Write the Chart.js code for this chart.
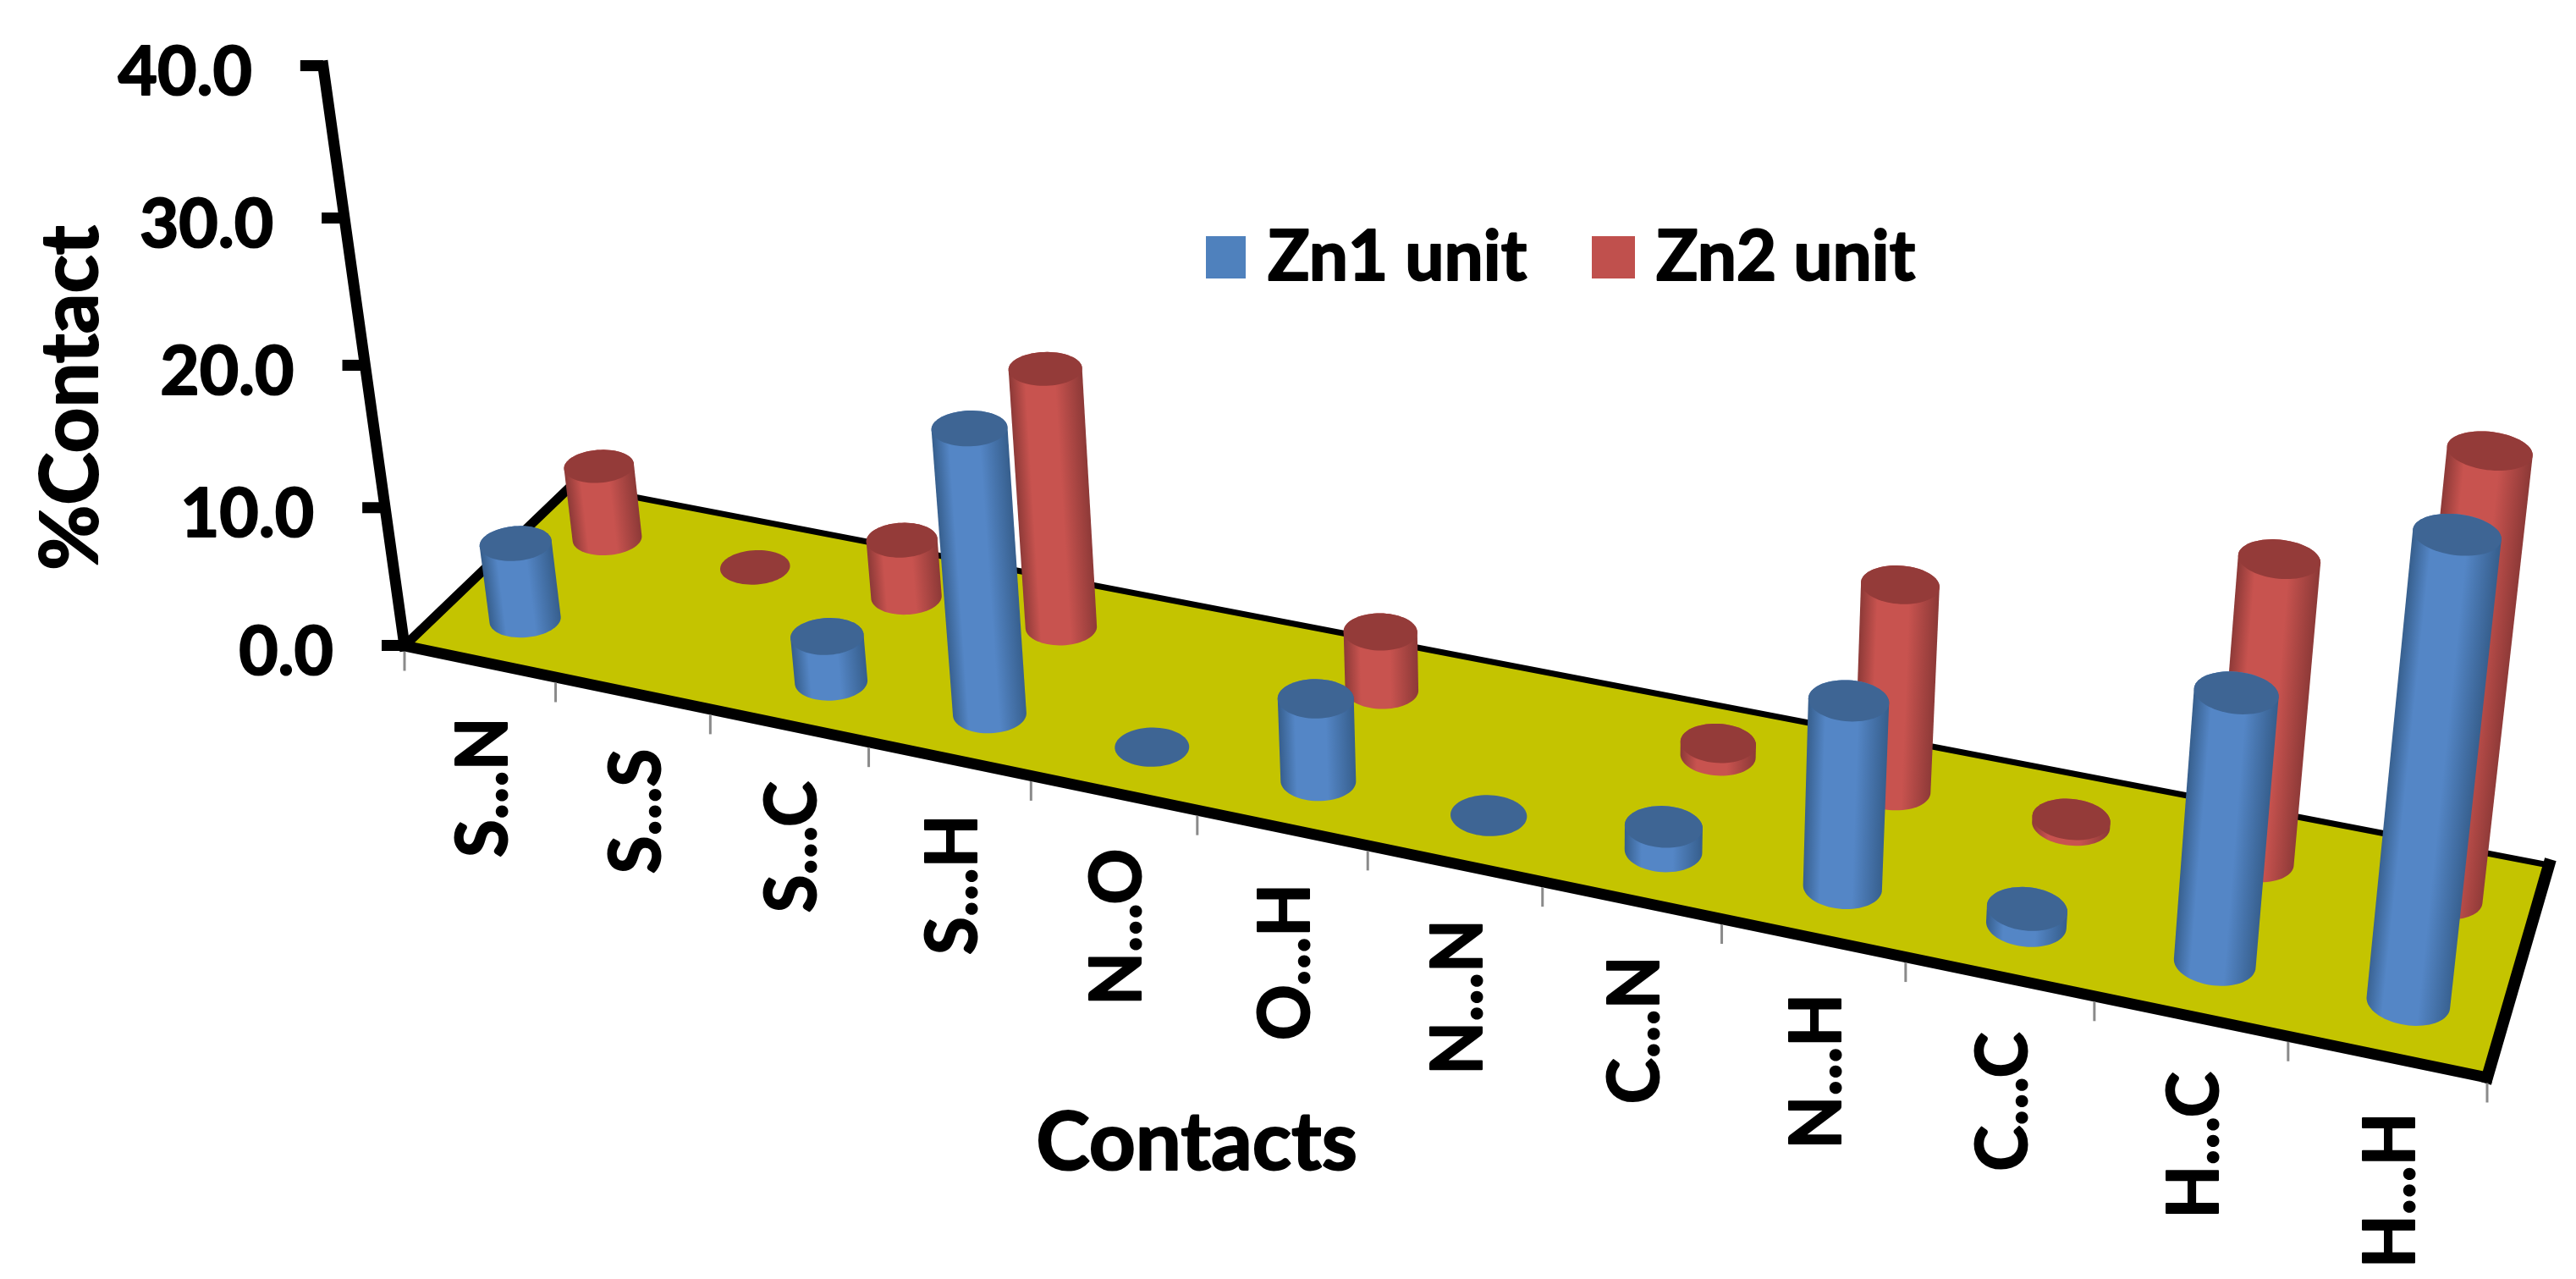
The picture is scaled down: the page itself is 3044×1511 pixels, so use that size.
<!DOCTYPE html>
<html>
<head>
<meta charset="utf-8">
<title>Contacts</title>
<script src="https://cdn.jsdelivr.net/npm/chart.js@4"></script>
<style>
    html, body { margin: 0; padding: 0; background: #fff; }
    canvas { display: block; }
</style>
</head>
<body>
<canvas id="grafico" width="3044" height="1511"></canvas>
<script>
// dados (null = coluna ausente)
var categorias = ["S...N", "S...S", "S...C", "S...H", "N...O", "O...H", "N...N", "C...N", "N...H", "C...C", "H...C", "H...H"];
var zn1 = [5.6, null, 3.3, 20.0, 0, 5.8, 0, 1.7, 12.7, 1.1, 17.9, 30.0];
var zn2 = [5.4, 0, 4.2, 18.5, null, 4.2, null, 0.9, 14.2, 0.4, 20.3, 29.3];
var nomes = ["Zn1 unit", "Zn2 unit"];
var tituloX = "Contacts";
var tituloY = "%Contact";

var FONTE = 'Lato, "Open Sans", sans-serif';

// homografia do piso/eixos: U ao longo das categorias, w na profundidade, t na altura
var P = { a: 2051, b: 237.1, d: 478, e: 332.4, f: -156.8, k: 763, g: -0.1395, h: 0.05787, va: -121, vb: -690, vc: -0.065 };

function proj(U, w, t) {
    var D = 1 + P.g * U + P.h * w + P.vc * t;
    return { x: (P.d + P.a * U + P.b * w + P.va * t) / D, y: (P.k + P.e * U + P.f * w + P.vb * t) / D };
}

function texto(ctx, str, x, y, size, estica, rot, align) {
    ctx.save();
    ctx.translate(x, y);
    ctx.rotate(rot);
    ctx.scale(estica, 1);
    ctx.font = 'bold ' + size + 'px ' + FONTE;
    ctx.textAlign = align;
    ctx.textBaseline = 'middle';
    ctx.fillStyle = '#000';
    ctx.strokeStyle = '#000';
    ctx.lineWidth = 2;
    ctx.lineJoin = 'round';
    ctx.strokeText(str, 0, 0); // a fonte original e mais pesada
    ctx.fillText(str, 0, 0);
    ctx.restore();
}

function linha(ctx, a, b, largura, cor) {
    ctx.beginPath();
    ctx.moveTo(a.x, a.y);
    ctx.lineTo(b.x, b.y);
    ctx.lineWidth = largura;
    ctx.strokeStyle = cor;
    ctx.lineCap = 'square';
    ctx.stroke();
}

function casco(pts) {
    var p = pts.slice().sort(function (a, b) { return a.x - b.x || a.y - b.y; });
    var cross = function (o, a, b) { return (a.x - o.x) * (b.y - o.y) - (a.y - o.y) * (b.x - o.x); };
    var lo = [], up = [];
    p.forEach(function (q) {
        while (lo.length > 1 && cross(lo[lo.length - 2], lo[lo.length - 1], q) <= 0) lo.pop();
        lo.push(q);
    });
    p.reverse().forEach(function (q) {
        while (up.length > 1 && cross(up[up.length - 2], up[up.length - 1], q) <= 0) up.pop();
        up.push(q);
    });
    return lo.slice(0, -1).concat(up.slice(0, -1));
}

function caminho(ctx, pts) {
    ctx.beginPath();
    pts.forEach(function (q, i) { if (i) ctx.lineTo(q.x, q.y); else ctx.moveTo(q.x, q.y); });
    ctx.closePath();
}

var CORES = [
    { topo: '#3E6594', borda: '#365E8C', meio: '#5486C6' },
    { topo: '#943B39', borda: '#8C3937', meio: '#C8534F' }
];
var RU = 0.0175, RW = 0.1;

function cilindro(ctx, U, w, t, cor) {
    var base = [], topo = [];
    for (var i = 0; i < 72; i++) {
        var th = i / 72 * Math.PI * 2;
        var u2 = U + RU * Math.cos(th), w2 = w + RW * Math.sin(th);
        base.push(proj(u2, w2, 0));
        topo.push(proj(u2, w2, t));
    }
    if (t > 0) {
        var c0 = proj(U, w, 0), c1 = proj(U, w, t);
        var nx = c1.y - c0.y, ny = c0.x - c1.x, n = Math.hypot(nx, ny);
        nx /= n; ny /= n;
        if (nx < 0) { nx = -nx; ny = -ny; }
        var hull = casco(base.concat(topo));
        var mn = Infinity, mx = -Infinity;
        hull.forEach(function (q) {
            var s = (q.x - c0.x) * nx + (q.y - c0.y) * ny;
            mn = Math.min(mn, s); mx = Math.max(mx, s);
        });
        var gr = ctx.createLinearGradient(c0.x + nx * mn, c0.y + ny * mn, c0.x + nx * mx, c0.y + ny * mx);
        gr.addColorStop(0, cor.borda);
        gr.addColorStop(0.22, cor.meio);
        gr.addColorStop(0.62, cor.meio);
        gr.addColorStop(1, cor.borda);
        caminho(ctx, hull);
        ctx.fillStyle = gr;
        ctx.fill();
    }
    caminho(ctx, topo);
    ctx.fillStyle = cor.topo;
    ctx.fill();
}

var desenho3d = {
    id: 'desenho3d',
    afterDatasetsDraw: function (chart) {
        var ctx = chart.ctx, xs = chart.scales.x, ys = chart.scales.y;
        var area = chart.chartArea;
        ctx.save();

        // piso
        var p00 = proj(0, 0, 0), p10 = proj(1, 0, 0), p11 = proj(1, 1, 0), p01 = proj(0, 1, 0);
        caminho(ctx, [p00, p10, p11, p01]);
        ctx.fillStyle = '#C4C400';
        ctx.fill();
        linha(ctx, p01, p11, 7, '#000');
        linha(ctx, p00, p01, 11, '#000');
        linha(ctx, p10, p11, 14, '#000');
        linha(ctx, p00, p10, 13, '#000');

        // eixo de valores
        linha(ctx, proj(0, 0, 0), proj(0, 0, 1), 13, '#000');
        ys.ticks.forEach(function (tk) {
            var t = (ys.bottom - ys.getPixelForValue(tk.value)) / ys.height;
            var q = proj(0, 0, t);
            ctx.fillStyle = '#000';
            ctx.fillRect(q.x - 27, q.y - 7, 27, 13);
            texto(ctx, tk.label, q.x - 84, q.y + 8, 80, 1, 0, 'right');
        });

        // categorias
        for (var i = 0; i <= categorias.length; i++) {
            var q = proj(i / categorias.length, 0, 0);
            linha(ctx, { x: q.x, y: q.y + 8 }, { x: q.x, y: q.y + 28 }, 3, '#8A8A8A');
        }
        categorias.forEach(function (nome, i) {
            var U = (xs.getPixelForValue(i) - area.left) / area.width;
            var q = proj(U, 0, 0);
            texto(ctx, nome, q.x + 5, q.y + 66, 84, 0.97, -Math.PI / 2, 'right');
        });

        // colunas: serie de tras primeiro
        [1, 0].forEach(function (s) {
            var meta = chart.getDatasetMeta(s);
            meta.data.forEach(function (el, i) {
                if (chart.data.datasets[s].data[i] === null) return;
                var U = (el.x - area.left) / area.width + 0.0015;
                var t = (ys.bottom - el.y) / ys.height;
                cilindro(ctx, U, s === 0 ? 0.25 : 0.75, t, CORES[s]);
            });
        });

        // titulos
        texto(ctx, tituloX, 1414, 1351, 96, 1, 0, 'center');
        texto(ctx, tituloY, 85, 470, 94, 1, -Math.PI / 2, 'center');

        // legenda
        var lx = [1425, 1881], sw = [47, 51], tx = [1498, 1957];
        chart.data.datasets.forEach(function (ds, s) {
            ctx.fillStyle = ds.corLegenda;
            ctx.fillRect(lx[s], 279, sw[s], 50);
            texto(ctx, ds.label, tx[s], 305, 82, 1, 0, 'left');
        });
        ctx.restore();
    }
};

new Chart(document.getElementById('grafico').getContext('2d'), {
    type: 'bar',
    data: {
        labels: categorias,
        datasets: [
            { label: nomes[0], data: zn1, backgroundColor: 'transparent', corLegenda: '#4F81BD' },
            { label: nomes[1], data: zn2, backgroundColor: 'transparent', corLegenda: '#C0504D' }
        ]
    },
    options: {
        responsive: false,
        animation: false,
        devicePixelRatio: 1,
        layout: { padding: 0 },
        plugins: { legend: { display: false }, tooltip: { enabled: false } },
        datasets: { bar: { grouped: false } },
        scales: {
            x: { ticks: { display: false }, grid: { display: false }, border: { display: false } },
            y: {
                min: 0, max: 40,
                ticks: { display: false, stepSize: 10, callback: function (v) { return v.toFixed(1); } },
                grid: { display: false }, border: { display: false }
            }
        }
    },
    plugins: [desenho3d]
});
</script>
</body>
</html>
